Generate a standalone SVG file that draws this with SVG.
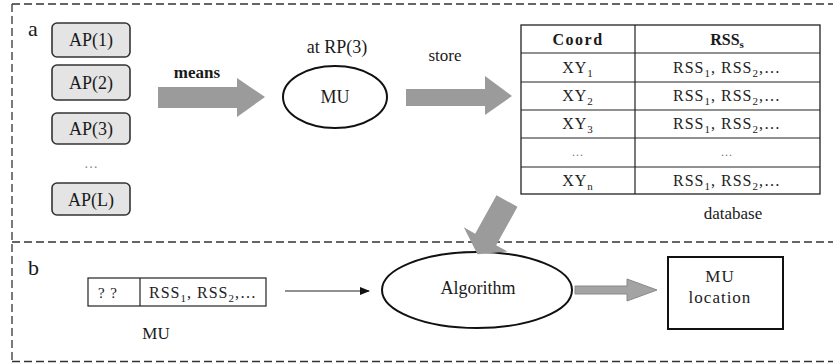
<svg xmlns="http://www.w3.org/2000/svg" width="833" height="364" viewBox="0 0 833 364" font-family="'Liberation Serif', 'DejaVu Serif', 'Times New Roman', serif">
  <style>
    .serif { fill: #1a1a1a; }
    .thin { fill: #222; letter-spacing: 1px; }
    .frame { fill: none; stroke: #333; stroke-width: 1.3; stroke-dasharray: 8 4; }
    .ap rect { fill: #e4e4e4; stroke: #333; stroke-width: 1.6; }
    .line { fill: none; stroke: #222; stroke-width: 1.2; }
    .fat { fill: #9b9b9b; }
  </style>
  <defs>
    <marker id="head" markerWidth="10" markerHeight="8" refX="9" refY="4" orient="auto" markerUnits="userSpaceOnUse">
      <path d="M0,0 L10,4 L0,8 Z" fill="#111"/>
    </marker>
  </defs>

  <rect width="833" height="364" fill="#fff"/>

  <!-- dashed panel frame -->
  <g id="frame">
    <path class="frame" d="M12,4 H833"/>
    <path class="frame" d="M12,4 V362"/>
    <path class="frame" d="M12,242 H833"/>
    <path class="frame" d="M12,361.5 H833"/>
    <text class="serif" x="28" y="36" font-size="22" font-family="Liberation Serif">a</text>
    <text class="serif" x="28" y="275" font-size="22" font-family="Liberation Serif">b</text>
  </g>

  <!-- access points -->
  <g id="ap1" class="ap"><rect x="52" y="23" width="78" height="34" rx="5"/><text class="serif" x="91" y="46" font-size="18" text-anchor="middle">AP(1)</text></g>
  <g id="ap2" class="ap"><rect x="52" y="65" width="78" height="35" rx="5"/><text class="serif" x="91" y="89" font-size="18" text-anchor="middle">AP(2)</text></g>
  <g id="ap3" class="ap"><rect x="52" y="113" width="78" height="31" rx="5"/><text class="serif" x="91" y="135" font-size="18" text-anchor="middle">AP(3)</text></g>
  <g id="apdots"><text x="91" y="168" font-size="14" text-anchor="middle" style="fill:#888">…</text></g>
  <g id="apL" class="ap"><rect x="52" y="183" width="78" height="32" rx="5"/><text class="serif" x="91" y="206" font-size="18" text-anchor="middle">AP(L)</text></g>

  <!-- mobile unit at reference point -->
  <g id="mu">
    <text class="serif" x="337" y="53" font-size="18" text-anchor="middle">at RP(3)</text>
    <ellipse cx="335" cy="97" rx="52" ry="31" fill="#fff" stroke="#111" stroke-width="2"/>
    <text class="serif" x="335" y="103" font-size="18" text-anchor="middle">MU</text>
  </g>

  <!-- fingerprint database -->
  <g id="database">
    <rect x="521" y="25" width="299" height="169" fill="#fff" stroke="#222" stroke-width="1.3"/>
    <path class="line" d="M635,25 V194 M521,53 H820 M521,82 H820 M521,110 H820 M521,138 H820 M521,167 H820"/>
    <text class="serif" x="578" y="45" font-size="16" font-weight="bold" text-anchor="middle" letter-spacing="1.5">Coord</text>
    <text class="serif" x="727" y="45" font-size="16" font-weight="bold" text-anchor="middle">RSS<tspan font-size="11" dy="3">s</tspan></text>
    <g class="thin" font-size="16" text-anchor="middle">
      <text x="578" y="73">XY<tspan font-size="11" dy="4">1</tspan></text>
      <text x="578" y="101">XY<tspan font-size="11" dy="4">2</tspan></text>
      <text x="578" y="129">XY<tspan font-size="11" dy="4">3</tspan></text>
      <text x="578" y="156" font-size="12" style="fill:#777">…</text>
      <text x="578" y="186">XY<tspan font-size="11" dy="4">n</tspan></text>
      <text x="727" y="73">RSS<tspan font-size="11" dy="4">1</tspan><tspan dy="-4">, RSS</tspan><tspan font-size="11" dy="4">2</tspan><tspan dy="-4">,…</tspan></text>
      <text x="727" y="101">RSS<tspan font-size="11" dy="4">1</tspan><tspan dy="-4">, RSS</tspan><tspan font-size="11" dy="4">2</tspan><tspan dy="-4">,…</tspan></text>
      <text x="727" y="129">RSS<tspan font-size="11" dy="4">1</tspan><tspan dy="-4">, RSS</tspan><tspan font-size="11" dy="4">2</tspan><tspan dy="-4">,…</tspan></text>
      <text x="727" y="156" font-size="12" style="fill:#777">…</text>
      <text x="727" y="186">RSS<tspan font-size="11" dy="4">1</tspan><tspan dy="-4">, RSS</tspan><tspan font-size="11" dy="4">2</tspan><tspan dy="-4">,…</tspan></text>
    </g>
    <text class="serif" x="733" y="219" font-size="17" text-anchor="middle">database</text>
  </g>

  <!-- online measurement -->
  <g id="measurement">
    <rect x="88" y="278" width="178" height="28" fill="#fff" stroke="#222" stroke-width="1.2"/>
    <path class="line" d="M140,278 V306"/>
    <text class="thin" x="108" y="298" font-size="15" text-anchor="middle">? ?</text>
    <text class="thin" x="203" y="298" font-size="16" text-anchor="middle">RSS<tspan font-size="11" dy="4">1</tspan><tspan dy="-4">, RSS</tspan><tspan font-size="11" dy="4">2</tspan><tspan dy="-4">,…</tspan></text>
    <text class="serif" x="156" y="339" font-size="17" text-anchor="middle">MU</text>
  </g>

  <!-- positioning algorithm -->
  <g id="algorithm">
    <ellipse cx="477" cy="290" rx="95" ry="38" fill="#fff" stroke="#111" stroke-width="2"/>
    <text class="serif" x="478" y="294" font-size="18" text-anchor="middle">Algorithm</text>
  </g>

  <!-- estimated location -->
  <g id="location">
    <rect x="668" y="257" width="115" height="72" fill="#fff" stroke="#111" stroke-width="2"/>
    <text class="thin" x="720" y="282" font-size="17" text-anchor="middle">MU</text>
    <text class="thin" x="720" y="303" font-size="17" text-anchor="middle" letter-spacing="1.8">location</text>
  </g>

  <!-- connectors -->
  <g id="connectors">
    <path class="fat" d="M158,87 H237 V78 L265,97 L237,117 V108 H158 Z"/>
    <text class="serif" x="197" y="78" font-size="17" font-weight="bold" text-anchor="middle">means</text>
    <path class="fat" d="M406,89 H485 V76 L512,96 L485,115 V106 H406 Z"/>
    <text class="serif" x="445" y="61" font-size="17" text-anchor="middle">store</text>
    <path class="fat" transform="translate(507,201) rotate(119)" d="M0,-12 H44 V-25 L61,0 L44,25 V12 H0 Z"/>
    <path class="line" d="M285,291 H369" marker-end="url(#head)"/>
    <path d="M575,286 H627 V279 L657,290 L627,301 V294 H575 Z" fill="#a3a3a3" stroke="#8a8a8a" stroke-width="1"/>
  </g>
</svg>
